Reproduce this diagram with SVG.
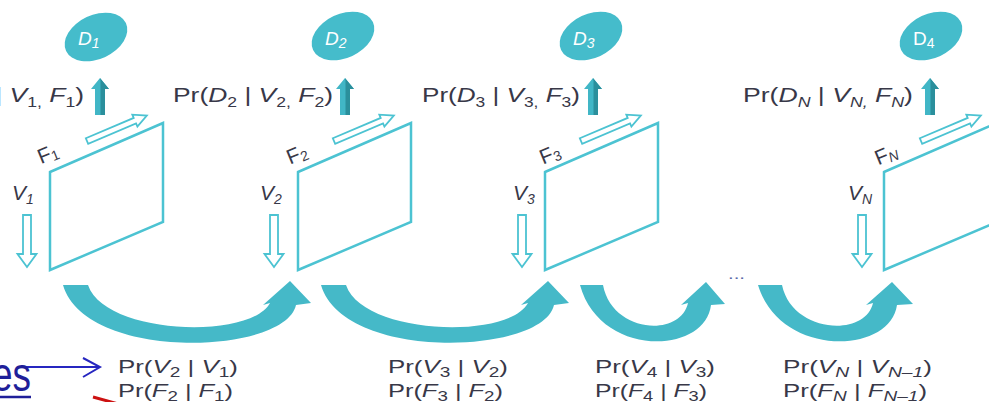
<svg xmlns="http://www.w3.org/2000/svg" xmlns:xlink="http://www.w3.org/1999/xlink" width="989" height="402" viewBox="0 0 989 402">
<style>
.frame{fill:#fff;stroke:#4cc3d2;stroke-width:2.5}
.hollow{fill:#fff;stroke:#4cc3d2;stroke-width:1.8;stroke-linejoin:miter}
.ell{fill:#45bccb}
.upl{fill:#41b6c6}
.upd{fill:#2b8f9c}
.curve{fill:#45b9c8}
.lbl{font-family:"Liberation Sans",Arial,sans-serif;fill:#383848;font-size:21px}
.blbl{font-family:"Liberation Sans",Arial,sans-serif;fill:#383848;font-size:19px}
.dl{font-family:"Liberation Sans",Arial,sans-serif;fill:#ffffff;font-size:19px;font-style:italic}
.i{font-style:italic}
.sub{font-size:14px}
.bsub{font-size:14px}
</style>
<defs>
<polygon id="frame" class="frame" points="50,172 163,123 163,222 50,270"/>
<path id="farrow" class="hollow" d="M0,-3 L52,-3 L52,-6.5 L65,0 L52,6.5 L52,3 L0,3 Z" transform="translate(87,141) rotate(-23)"/>
<path id="varrow" class="hollow" d="M-4,215 L4,215 L4,254 L9.5,254 L0,267 L-9.5,254 L-4,254 Z"/>
<g id="uparrow">
<polygon class="upl" points="0,0 9,11 5,11 5,37 -5,37 -5,11 -9,11"/>
<polygon class="upd" points="0,0 9,11 5,11 5,37 0.5,37 0.5,3"/>
</g>
</defs>

<g id="D1">
<ellipse class="ell" cx="96" cy="37" rx="33" ry="22" transform="rotate(-25 96 37)"/>
<text class="dl" x="78" y="45">D<tspan class="sub" dy="3">1</tspan></text>
</g>
<g id="D2">
<ellipse class="ell" cx="343" cy="36" rx="33" ry="22" transform="rotate(-25 343 36)"/>
<text class="dl" x="325" y="45">D<tspan class="sub" dy="3">2</tspan></text>
</g>
<g id="D3">
<ellipse class="ell" cx="591" cy="36" rx="33" ry="22" transform="rotate(-25 591 36)"/>
<text class="dl" x="573" y="45">D<tspan class="sub" dy="3">3</tspan></text>
</g>
<g id="D4">
<ellipse class="ell" cx="931" cy="36" rx="33" ry="22" transform="rotate(-25 931 36)"/>
<text class="dl" x="913" y="45" style="font-style:normal">D<tspan class="sub" dy="3">4</tspan></text>
</g>

<g id="frame1">
<use xlink:href="#frame"/>
<use xlink:href="#farrow"/>
<use xlink:href="#varrow" x="27"/>
<text class="lbl" x="37" y="160" transform="rotate(-22 50 152)">F<tspan class="sub" dy="2">1</tspan></text>
<text class="lbl i" x="12" y="200">V<tspan class="sub" dy="4">1</tspan></text>
</g>
<g id="frame2">
<use xlink:href="#frame" x="248"/>
<use xlink:href="#farrow" x="247"/>
<use xlink:href="#varrow" x="274"/>
<text class="lbl" x="286" y="160" transform="rotate(-22 300 152)">F<tspan class="sub" dy="2">2</tspan></text>
<text class="lbl i" x="260" y="200">V<tspan class="sub" dy="4">2</tspan></text>
</g>
<g id="frame3">
<use xlink:href="#frame" x="495"/>
<use xlink:href="#farrow" x="494"/>
<use xlink:href="#varrow" x="522"/>
<text class="lbl" x="539" y="160" transform="rotate(-22 553 152)">F<tspan class="sub" dy="2">3</tspan></text>
<text class="lbl i" x="513" y="200">V<tspan class="sub" dy="4">3</tspan></text>
</g>
<g id="frameN">
<use xlink:href="#frame" x="834"/>
<use xlink:href="#farrow" x="834"/>
<use xlink:href="#varrow" x="862"/>
<text class="lbl" x="874" y="160" transform="rotate(-22 890 152)">F<tspan class="sub i" dy="2">N</tspan></text>
<text class="lbl i" x="848" y="200">V<tspan class="sub" dy="4">N</tspan></text>
</g>

<g id="connectors">
<use xlink:href="#uparrow" transform="translate(100,78)"/>
<use xlink:href="#uparrow" transform="translate(345,78)"/>
<use xlink:href="#uparrow" transform="translate(593,78)"/>
<use xlink:href="#uparrow" transform="translate(930,78)"/>
<path class="curve" d="M88,285 C105,335 250,340 270,303 L263,305 L290,281 L311,303 L296,305 C285,355 85,362 63,285 Z"/>
<path class="curve" d="M88,285 C105,335 250,340 270,303 L263,305 L290,281 L311,303 L296,305 C285,355 85,362 63,285 Z" transform="translate(258,0)"/>
<path class="curve" d="M603,285 C612,333 680,338 688,303 L681,305 L706,282 L725,304 L711,305 C705,355 600,358 580,285 Z"/>
<path class="curve" d="M782,285 C792,333 865,338 873,303 L866,305 L892,282 L913,304 L897,305 C890,355 780,358 758,285 Z"/>
<line x1="20" y1="367" x2="100" y2="367" stroke="#2626c0" stroke-width="2"/>
<polyline points="83,358 100,367 83,377" fill="none" stroke="#2626c0" stroke-width="2"/>
<line x1="93" y1="397" x2="122" y2="405" stroke="#cc1111" stroke-width="3"/>
</g>

<g id="labels">
<text class="lbl" x="-76" y="102" textLength="160" lengthAdjust="spacingAndGlyphs">Pr(<tspan class="i">D</tspan><tspan class="sub" dy="5">1</tspan><tspan dy="-5"> | </tspan><tspan class="i">V</tspan><tspan class="sub" dy="5">1,</tspan><tspan dy="-5"> </tspan><tspan class="i">F</tspan><tspan class="sub" dy="5">1</tspan><tspan dy="-5">)</tspan></text>
<text class="lbl" x="173" y="102" textLength="160" lengthAdjust="spacingAndGlyphs">Pr(<tspan class="i">D</tspan><tspan class="sub" dy="5">2</tspan><tspan dy="-5"> | </tspan><tspan class="i">V</tspan><tspan class="sub" dy="5">2,</tspan><tspan dy="-5"> </tspan><tspan class="i">F</tspan><tspan class="sub" dy="5">2</tspan><tspan dy="-5">)</tspan></text>
<text class="lbl" x="422" y="102" textLength="158" lengthAdjust="spacingAndGlyphs">Pr(<tspan class="i">D</tspan><tspan class="sub" dy="5">3</tspan><tspan dy="-5"> | </tspan><tspan class="i">V</tspan><tspan class="sub" dy="5">3,</tspan><tspan dy="-5"> </tspan><tspan class="i">F</tspan><tspan class="sub" dy="5">3</tspan><tspan dy="-5">)</tspan></text>
<text class="lbl" x="743" y="102" textLength="170" lengthAdjust="spacingAndGlyphs">Pr(<tspan class="i">D</tspan><tspan class="sub i" dy="5">N</tspan><tspan dy="-5"> | </tspan><tspan class="i">V</tspan><tspan class="sub i" dy="5">N,</tspan><tspan dy="-5"> </tspan><tspan class="i">F</tspan><tspan class="sub i" dy="5">N</tspan><tspan dy="-5">)</tspan></text>

<text class="blbl" x="118" y="373" textLength="120" lengthAdjust="spacingAndGlyphs">Pr(<tspan class="i">V</tspan><tspan class="bsub" dy="4">2</tspan><tspan dy="-4"> | </tspan><tspan class="i">V</tspan><tspan class="bsub" dy="4">1</tspan><tspan dy="-4">)</tspan></text>
<text class="blbl" x="118" y="397" textLength="115" lengthAdjust="spacingAndGlyphs">Pr(<tspan class="i">F</tspan><tspan class="bsub" dy="4">2</tspan><tspan dy="-4"> | </tspan><tspan class="i">F</tspan><tspan class="bsub" dy="4">1</tspan><tspan dy="-4">)</tspan></text>
<text class="blbl" x="388" y="373" textLength="120" lengthAdjust="spacingAndGlyphs">Pr(<tspan class="i">V</tspan><tspan class="bsub" dy="4">3</tspan><tspan dy="-4"> | </tspan><tspan class="i">V</tspan><tspan class="bsub" dy="4">2</tspan><tspan dy="-4">)</tspan></text>
<text class="blbl" x="388" y="397" textLength="115" lengthAdjust="spacingAndGlyphs">Pr(<tspan class="i">F</tspan><tspan class="bsub" dy="4">3</tspan><tspan dy="-4"> | </tspan><tspan class="i">F</tspan><tspan class="bsub" dy="4">2</tspan><tspan dy="-4">)</tspan></text>
<text class="blbl" x="595" y="373" textLength="120" lengthAdjust="spacingAndGlyphs">Pr(<tspan class="i">V</tspan><tspan class="bsub" dy="4">4</tspan><tspan dy="-4"> | </tspan><tspan class="i">V</tspan><tspan class="bsub" dy="4">3</tspan><tspan dy="-4">)</tspan></text>
<text class="blbl" x="595" y="397" textLength="112" lengthAdjust="spacingAndGlyphs">Pr(<tspan class="i">F</tspan><tspan class="bsub" dy="4">4</tspan><tspan dy="-4"> | </tspan><tspan class="i">F</tspan><tspan class="bsub" dy="4">3</tspan><tspan dy="-4">)</tspan></text>
<text class="blbl" x="783" y="373" textLength="149" lengthAdjust="spacingAndGlyphs">Pr(<tspan class="i">V</tspan><tspan class="bsub i" dy="4">N</tspan><tspan dy="-4"> | </tspan><tspan class="i">V</tspan><tspan class="bsub i" dy="4">N–1</tspan><tspan dy="-4">)</tspan></text>
<text class="blbl" x="783" y="397" textLength="144" lengthAdjust="spacingAndGlyphs">Pr(<tspan class="i">F</tspan><tspan class="bsub i" dy="4">N</tspan><tspan dy="-4"> | </tspan><tspan class="i">F</tspan><tspan class="bsub i" dy="4">N–1</tspan><tspan dy="-4">)</tspan></text>

<text x="728" y="279" font-family="Liberation Sans, Arial, sans-serif" font-size="14" fill="#5a6aa8" textLength="17" lengthAdjust="spacingAndGlyphs">...</text>

<text x="-8" y="391" font-family="Liberation Sans, Arial, sans-serif" font-size="48" fill="#1f1f99" textLength="39" lengthAdjust="spacingAndGlyphs">es</text>
<line x1="0" y1="397" x2="31" y2="397" stroke="#1f1f99" stroke-width="2.5"/>
</g>
</svg>
